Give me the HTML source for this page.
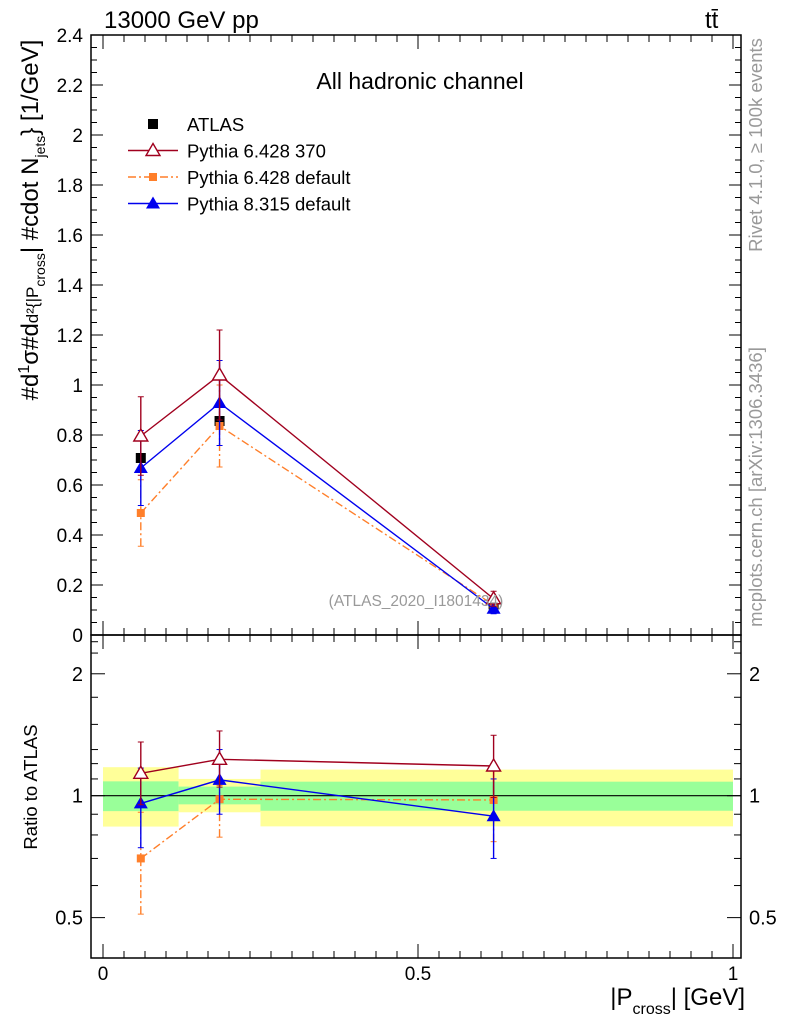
<!DOCTYPE html>
<html><head><meta charset="utf-8"><style>
body{margin:0;background:#fff}
svg{display:block;font-family:"Liberation Sans",sans-serif}
</style></head><body>
<svg id="c" width="786" height="1024" viewBox="0 0 786 1024">
<g id="bands"></g>
<g id="axes"></g>
<g id="series"></g>
<g id="texts">
<text x="104" y="28" font-size="24">13000 GeV pp</text>
<text x="705" y="28" font-size="24">tt̄</text>
<text x="420" y="89" font-size="23" text-anchor="middle">All hadronic channel</text>
<text x="416" y="606" font-size="15.5" fill="#999" text-anchor="middle">(ATLAS_2020_I1801434)</text>
<text transform="translate(762,145) rotate(-90)" font-size="18.5" fill="#999" text-anchor="middle">Rivet 4.1.0, ≥ 100k events</text>
<text transform="translate(762,487) rotate(-90)" font-size="18.5" fill="#999" text-anchor="middle">mcplots.cern.ch [arXiv:1306.3436]</text>
<text transform="translate(38,220) rotate(-90)" font-size="24" text-anchor="middle">#d<tspan font-size="16" dy="-9">1</tspan><tspan dy="9">σ</tspan>#d<tspan font-size="17">d²{|P</tspan><tspan font-size="14" dy="7">cross</tspan><tspan dy="-7">| #cdot N</tspan><tspan font-size="14" dy="7">jets</tspan><tspan dy="-7">} [1/GeV]</tspan></text>
<text transform="translate(37,787) rotate(-90)" font-size="18.5" text-anchor="middle">Ratio to ATLAS</text>
<text x="745" y="1005" font-size="24" text-anchor="end">|P<tspan font-size="16" dy="9">cross</tspan><tspan dy="-9">| [GeV]</tspan></text>
</g>
<g id="legend"></g>
</svg>
<script>
const NS="http://www.w3.org/2000/svg";
const binEdges=[0,0.12,0.25,1.0];
const xVals=[0.06,0.185,0.62];
const atlas=[0.708,0.856,0.122];
const p370=[0.796,1.04,0.145];
const p370Err=[0.157,0.18,0.03];
const p6def=[0.488,0.836,0.12];
const p6defErr=[0.133,0.164,0.02];
const p8=[0.668,0.928,0.105];
const p8Err=[0.15,0.17,0.02];
const r370=[1.136,1.23,1.184];
const r370Hi=[1.357,1.445,1.41];
const r370Lo=[0.95,1.05,0.99];
const r6def=[0.70,0.98,0.976];
const r6defHi=[0.91,1.06,1.18];
const r6defLo=[0.51,0.79,0.77];
const r8=[0.957,1.094,0.89];
const r8Hi=[1.17,1.30,1.10];
const r8Lo=[0.744,0.90,0.70];
const yelHi=[1.176,1.10,1.16], yelLo=[0.839,0.91,0.84];
const grnHi=[1.085,1.053,1.083], grnLo=[0.916,0.952,0.918];
const mainTicks=[0,0.2,0.4,0.6,0.8,1,1.2,1.4,1.6,1.8,2,2.2,2.4];
const mainTickLabels=["0","0.2","0.4","0.6","0.8","1","1.2","1.4","1.6","1.8","2","2.2","2.4"];
const xTicks=[0,0.5,1];
const xTickLabels=["0","0.5","1"];
const rTicks=[0.5,1,2];
const rTickLabels=["0.5","1","2"];
const rMinor=[0.6,0.7,0.8,0.9,1.1,1.2,1.3,1.5,1.75,2.25,2.4];

const X=v=>103+630*v;
const Y=v=>635-250*v;
const R=v=>795.7-405*Math.log10(v);
const L=91,Rt=741;
function el(p,t,a){const e=document.createElementNS(NS,t);for(const k in a)e.setAttribute(k,a[k]);document.getElementById(p).appendChild(e);return e;}

for(let i=0;i<3;i++){
 let b=el('bands','rect',{x:X(binEdges[i]),y:R(yelHi[i]),width:X(binEdges[i+1])-X(binEdges[i]),height:R(yelLo[i])-R(yelHi[i]),fill:'#ffff99'});
 
 
 let g=el('bands','rect',{x:X(binEdges[i]),y:R(grnHi[i]),width:X(binEdges[i+1])-X(binEdges[i]),height:R(grnLo[i])-R(grnHi[i]),fill:'#99ff99'});
 
 
}
el('bands','line',{x1:L,x2:Rt,y1:R(1),y2:R(1),stroke:'#000','stroke-width':1.2});

let f1=el('axes','rect',{x:L,y:35,width:Rt-L,height:600,fill:'none',stroke:'#000','stroke-width':1.5});


let f2=el('axes','rect',{x:L,y:635,width:Rt-L,height:323,fill:'none',stroke:'#000','stroke-width':1.5});


mainTicks.forEach((v,i)=>{
 el('axes','line',{x1:L,x2:L+12,y1:Y(v),y2:Y(v),stroke:'#000'});
 el('axes','line',{x1:Rt,x2:Rt-12,y1:Y(v),y2:Y(v),stroke:'#000'});
 if(i<12){for(const d of [0.05,0.1,0.15]){const m=Y(v+d);el('axes','line',{x1:L,x2:L+6,y1:m,y2:m,stroke:'#000'});el('axes','line',{x1:Rt,x2:Rt-6,y1:m,y2:m,stroke:'#000'});}}
 let t=el('axes','text',{x:83,y:Y(v)+7,'font-size':19,'text-anchor':'end'});t.textContent=mainTickLabels[i];
 
 
});
for(let k=0;k<=30;k++){const v=k/30;const big=k%15===0;const h=big?14:7;
 el('axes','line',{x1:X(v),x2:X(v),y1:958,y2:958-h,stroke:'#000'});
 el('axes','line',{x1:X(v),x2:X(v),y1:635,y2:635+h,stroke:'#000'});
 el('axes','line',{x1:X(v),x2:X(v),y1:635,y2:635-h,stroke:'#000'});
 el('axes','line',{x1:X(v),x2:X(v),y1:35,y2:35+h,stroke:'#000'});}
xTicks.forEach((v,i)=>{let t=el('axes','text',{x:X(v),y:980,'font-size':19,'text-anchor':'middle'});t.textContent=xTickLabels[i];
 
 });
rMinor.forEach(v=>{el('axes','line',{x1:L,x2:L+7,y1:R(v),y2:R(v),stroke:'#000'});el('axes','line',{x1:Rt,x2:Rt-7,y1:R(v),y2:R(v),stroke:'#000'});});
rTicks.forEach((v,i)=>{
 el('axes','line',{x1:L,x2:L+14,y1:R(v),y2:R(v),stroke:'#000'});el('axes','line',{x1:Rt,x2:Rt-14,y1:R(v),y2:R(v),stroke:'#000'});
 let t=el('axes','text',{x:83,y:R(v)+7,'font-size':20,'text-anchor':'end'});t.textContent=rTickLabels[i];
 
 
 let t2=el('axes','text',{x:749,y:R(v)+7,'font-size':20});t2.textContent=rTickLabels[i];
 
 });

function marker(x,y,type,col){
 if(type==='sq')return el('series','rect',{x:x-5,y:y-5,width:10,height:10,fill:col});
 if(type==='sqs')return el('series','rect',{x:x-4,y:y-4,width:8,height:8,fill:col});
 if(type==='tri')return el('series','path',{d:`M${x},${y-7}L${x+7},${y+5}L${x-7},${y+5}Z`,fill:col});
 return el('series','path',{d:`M${x},${y-7}L${x+7},${y+5}L${x-7},${y+5}Z`,fill:'#fff',stroke:col,'stroke-width':1.4});
}
function series(name,vals,lo,hi,ys,col,dash,type){
 const pts=xVals.map((x,i)=>X(x)+','+ys(vals[i])).join(' ');
 let p=el('series','polyline',{points:pts,fill:'none',stroke:col,'stroke-width':1.4,'stroke-dasharray':dash||'none'});
 
 
 xVals.forEach((x,i)=>{
  if(lo){const a=ys(lo[i]),b=ys(hi[i]);
   el('series','line',{x1:X(x),x2:X(x),y1:a,y2:b,stroke:col,'stroke-width':1.4,'stroke-dasharray':dash||'none'});
   el('series','line',{x1:X(x)-3,x2:X(x)+3,y1:a,y2:a,stroke:col});
   el('series','line',{x1:X(x)-3,x2:X(x)+3,y1:b,y2:b,stroke:col});}
  let m=marker(X(x),ys(vals[i]),type,col);
  
  
 });
}
const sub=(a,e)=>a.map((v,i)=>v-e[i]), add=(a,e)=>a.map((v,i)=>v+e[i]);
xVals.forEach((x,i)=>{let m=marker(X(x),Y(atlas[i]),'sq','#000');
 
 });
series('pythia6-default',p6def,sub(p6def,p6defErr),add(p6def,p6defErr),Y,'#ff7f2a','8,3,2,3','sqs');
series('pythia8',p8,sub(p8,p8Err),add(p8,p8Err),Y,'#0000ee',null,'tri');
series('pythia6-370',p370,sub(p370,p370Err),add(p370,p370Err),Y,'#a0001e',null,'otri');
series('ratio-pythia6-default',r6def,r6defLo,r6defHi,R,'#ff7f2a','8,3,2,3','sqs');
series('ratio-pythia8',r8,r8Lo,r8Hi,R,'#0000ee',null,'tri');
series('ratio-pythia6-370',r370,r370Lo,r370Hi,R,'#a0001e',null,'otri');

const legNames=["ATLAS","Pythia 6.428 370","Pythia 6.428 default","Pythia 8.315 default"];
const legCols=["#000","#a0001e","#ff7f2a","#0000ee"];
const legTypes=["sq","otri","sqs","tri"];
legNames.forEach((n,i)=>{const y=124+26.5*i;
 if(i>0){el('legend','line',{x1:128,x2:178,y1:y,y2:y,stroke:legCols[i],'stroke-width':1.4,'stroke-dasharray':i===2?'8,3,2,3':'none'});}
 const m=legTypes[i];
 let mk;
 if(m==='sq')mk=el('legend','rect',{x:148,y:y-5,width:10,height:10,fill:'#000'});
 else if(m==='sqs')mk=el('legend','rect',{x:149,y:y-4,width:8,height:8,fill:legCols[i]});
 else if(m==='tri')mk=el('legend','path',{d:`M153,${y-7}L160,${y+5}L146,${y+5}Z`,fill:legCols[i]});
 else mk=el('legend','path',{d:`M153,${y-7}L160,${y+5}L146,${y+5}Z`,fill:'#fff',stroke:legCols[i],'stroke-width':1.4});
 
 
 let t=el('legend','text',{x:187,y:y+7,'font-size':18.5});t.textContent=n;
 
 
});
</script>
</body></html>
